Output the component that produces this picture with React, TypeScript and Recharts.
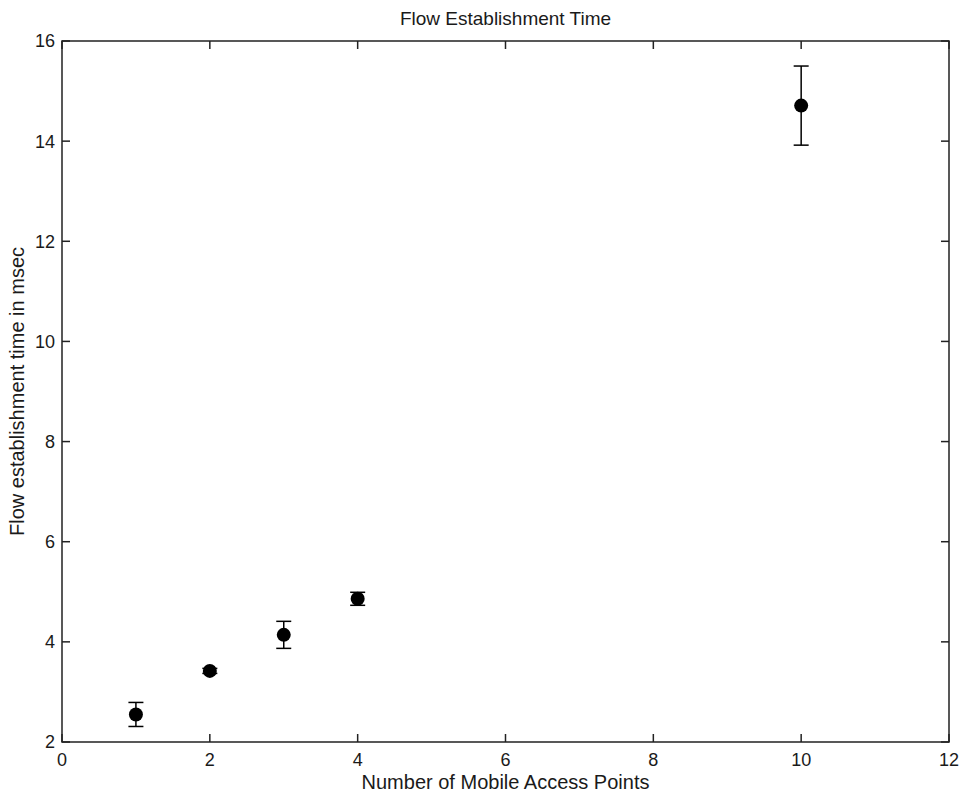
import { ScatterChart, Scatter, XAxis, YAxis, ErrorBar, ReferenceArea } from "recharts"

const accessPoints = [1, 2, 3, 4, 10]
const meanTime = [2.55, 3.42, 4.14, 4.86, 14.71]
const timeError = [0.24, 0.05, 0.27, 0.13, 0.79]
const xTicks = [0, 2, 4, 6, 8, 10, 12]
const yTicks = [2, 4, 6, 8, 10, 12, 14, 16]

const data = accessPoints.map((x, i) => ({ x, y: meanTime[i], err: timeError[i] }))

// layout of the plot box (MATLAB-like frame)
const W = 967
const H = 796
const margin = { top: 41, right: 18, bottom: 0, left: 0 }
const xAxisH = 54
const yAxisW = 62
const plotTop = margin.top
const plotBottom = H - xAxisH
const plotLeft = yAxisW
const plotRight = W - margin.right
const tickLen = 8

const font = '"Liberation Sans", Arial, Helvetica, sans-serif'
const ink = "#1a1a1a"
const lineColor = "#222"

const BottomTick = (p: any) => (
    <g>
        <line x1={p.x} x2={p.x} y1={plotBottom} y2={plotBottom - tickLen} stroke={lineColor} strokeWidth={1.5} />
        <line x1={p.x} x2={p.x} y1={plotTop} y2={plotTop + tickLen} stroke={lineColor} strokeWidth={1.5} />
        <text x={p.x} y={p.y} dy="0.71em" textAnchor="middle" fill={ink} fontSize={18} fontFamily={font}>
            {p.payload.value}
        </text>
    </g>
)

const LeftTick = (p: any) => (
    <g>
        <line x1={plotLeft} x2={plotLeft + tickLen} y1={p.y} y2={p.y} stroke={lineColor} strokeWidth={1.5} />
        <line x1={plotRight} x2={plotRight - tickLen} y1={p.y} y2={p.y} stroke={lineColor} strokeWidth={1.5} />
        <text x={p.x} y={p.y} dy="0.36em" textAnchor="end" fill={ink} fontSize={18} fontFamily={font}>
            {p.payload.value}
        </text>
    </g>
)

const Dot = (p: any) => <circle cx={p.cx} cy={p.cy} r={7} fill="#000" />

export default function App() {
    return (
        <div style={{ position: "absolute", left: 0, top: 0, background: "#fff" }}>
            <ScatterChart width={W} height={H} margin={margin}>
                <ReferenceArea
                    xAxisId="b"
                    yAxisId="l"
                    x1={0}
                    x2={12}
                    y1={2}
                    y2={16}
                    fill="none"
                    stroke={lineColor}
                    strokeWidth={1.5}
                    ifOverflow="visible"
                />
                <XAxis
                    xAxisId="b"
                    dataKey="x"
                    type="number"
                    domain={[0, 12]}
                    ticks={xTicks}
                    height={xAxisH}
                    axisLine={false}
                    tickLine={false}
                    tickSize={0}
                    tickMargin={11}
                    tick={BottomTick}
                    label={{
                        content: () => (
                            <g fill={ink} fontFamily={font}>
                                <text x={(plotLeft + plotRight) / 2} y={789} textAnchor="middle" fontSize={20}>
                                    Number of Mobile Access Points
                                </text>
                                <text x={(plotLeft + plotRight) / 2} y={25} textAnchor="middle" fontSize={19}>
                                    Flow Establishment Time
                                </text>
                            </g>
                        ),
                    }}
                />
                <YAxis
                    yAxisId="l"
                    dataKey="y"
                    type="number"
                    domain={[2, 16]}
                    ticks={yTicks}
                    width={yAxisW}
                    axisLine={false}
                    tickLine={false}
                    tickSize={0}
                    tickMargin={7}
                    tick={LeftTick}
                    label={{
                        content: () => (
                            <text
                                transform="rotate(-90)"
                                x={-(plotTop + plotBottom) / 2}
                                y={24}
                                textAnchor="middle"
                                fill={ink}
                                fontSize={20}
                                fontFamily={font}
                            >
                                Flow establishment time in msec
                            </text>
                        ),
                    }}
                />
                <Scatter data={data} xAxisId="b" yAxisId="l" shape={Dot} isAnimationActive={false}>
                    <ErrorBar dataKey="err" direction="y" width={7.5} stroke="#000" strokeWidth={1.5} />
                </Scatter>
            </ScatterChart>
        </div>
    )
}
